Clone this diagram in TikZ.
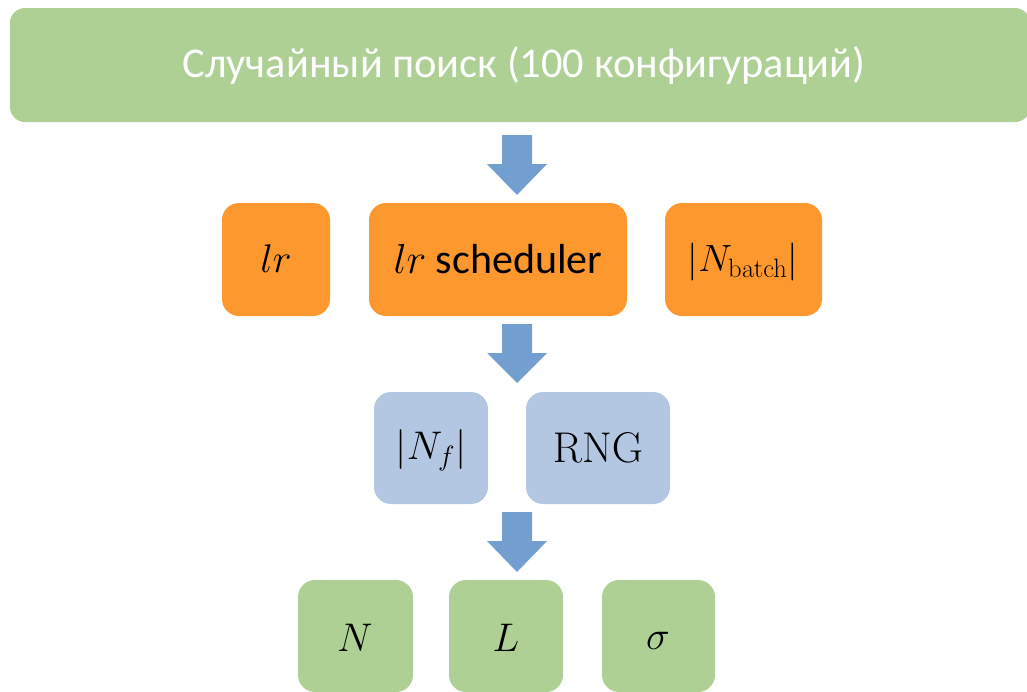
\RequirePackage{fix-cm}
\documentclass[tikz,border=0pt]{standalone}
\usepackage[no-math]{fontspec}
\setmainfont{Carlito}
\definecolor{boxgreen}{HTML}{AED095}
\definecolor{boxorange}{HTML}{FD982F}
\definecolor{boxblue}{HTML}{B4C7E2}
\definecolor{arrowblue}{HTML}{729FCF}
\tikzset{
  lbl/.style={inner sep=0pt, text=black, font=\fontsize{40}{44}\selectfont},
  rbox/.style={rounded corners=17pt},
}
\newcommand{\blockarrow}[3]{% x center, shaft top, tip
  \fill[arrowblue] (#1-15,#2) -- (#1+15,#2) -- (#1+15,#2+29) -- (#1+30,#2+29) -- (#1,#3) -- (#1-30,#2+29) -- (#1-15,#2+29) -- cycle;}
\begin{document}
\begin{tikzpicture}[x=1pt,y=-1pt]
\useasboundingbox (0,0) rectangle (1027,691);
% top box
\fill[boxgreen, rounded corners=15pt] (10,8) rectangle (1030,122);
\node[text=white, font=\fontsize{42.4}{46}\selectfont] (top) at (524,65) {Случайный поиск (100 конфигураций)};
% orange row
\fill[boxorange, rbox] (222,203) rectangle (330,316);
\node[lbl] (lr) at (276,259) {$lr$};
\fill[boxorange, rbox] (369,203) rectangle (627,316);
\node[lbl, font=\fontsize{42}{46}\selectfont] (sched) at (498,259) {$lr$ scheduler};
\fill[boxorange, rbox] (665,203) rectangle (822,316);
\node[lbl, font=\fontsize{38}{42}\selectfont] (nb) at (743,262) {$|N_{\mathrm{batch}}|$};
% blue row
\fill[boxblue, rbox] (374,392) rectangle (488,504);
\node[lbl] (nf) at (431,450) {$|N_f|$};
\fill[boxblue, rbox] (526,392) rectangle (670,504);
\node[lbl, font=\fontsize{43}{46}\selectfont] (rng) at (598,448) {$\mathrm{RNG}$};
% green row
\fill[boxgreen, rbox] (298,580) rectangle (413,692);
\node[lbl] (n) at (355,638) {$N$};
\fill[boxgreen, rbox] (449,580) rectangle (563,692);
\node[lbl] (l) at (506,638) {$L$};
\fill[boxgreen, rbox] (602,580) rectangle (715,692);
\node[lbl] (s) at (658,641) {$\sigma$};
% arrows
\blockarrow{517}{135}{195}
\blockarrow{517}{324}{383}
\blockarrow{517}{512}{572}
\end{tikzpicture}
\end{document}
